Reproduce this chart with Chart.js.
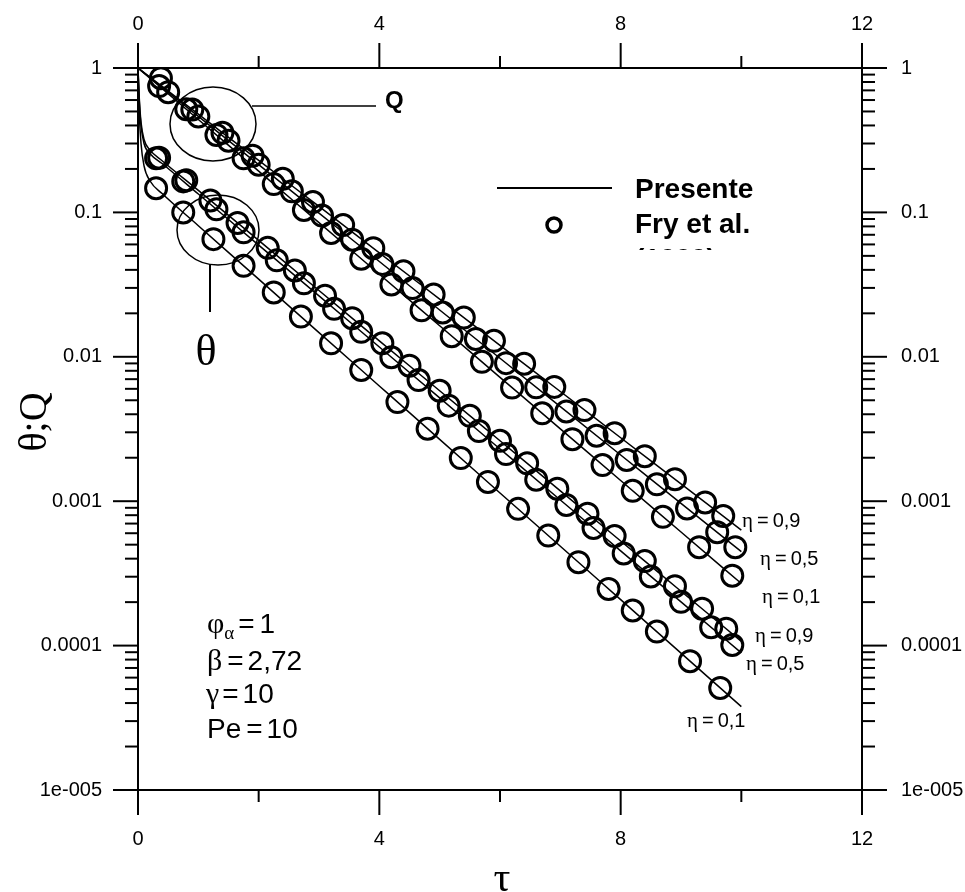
<!DOCTYPE html>
<html>
<head>
<meta charset="utf-8">
<script src="https://cdn.jsdelivr.net/npm/chart.js@4.4.1/dist/chart.umd.min.js"></script>
<style>
  html, body { margin: 0; padding: 0; background: #fff; }
</style>
</head>
<body>
<canvas id="decayChart" width="965" height="892"></canvas>
<script>
// model curves (solid lines)
const qTau = [0, 1, 2, 3, 4, 5, 6, 7, 8, 9, 10];
const qEta09 = [1, 0.479, 0.229, 0.110, 0.0525, 0.0251, 0.0120, 0.00575, 0.00275, 0.00132, 0.00063];
const qEta05 = [1, 0.462, 0.214, 0.0989, 0.0457, 0.0211, 0.00977, 0.00452, 0.00209, 0.000966, 0.000447];
const qEta01 = [1, 0.440, 0.193, 0.0849, 0.0373, 0.0164, 0.00721, 0.00317, 0.00139, 0.000612, 0.000269];

const thetaTau = [0, 0.02, 0.05, 0.1, 0.2, 0.4, 1, 2, 3, 4, 5, 6, 7, 8, 9, 10];
const thetaEta09 = [1, 0.63, 0.42, 0.32, 0.27, 0.228, 0.142, 0.0640, 0.0288, 0.0129, 0.00582, 0.00262, 0.00118, 0.00053, 0.000238, 0.000107];
const thetaEta05 = [1, 0.60, 0.40, 0.30, 0.255, 0.218, 0.134, 0.0594, 0.0264, 0.0117, 0.00519, 0.0023, 0.00102, 0.000453, 0.000201, 0.0000891];
const thetaEta01 = [1, 0.50, 0.30, 0.21, 0.165, 0.135, 0.0809, 0.0345, 0.0147, 0.00628, 0.00268, 0.00114, 0.000488, 0.000208, 0.0000887, 0.0000378];

// Fry et al. (1999) points (circles)
const fryQ09Tau = [0.38, 0.9, 1.4, 1.9, 2.4, 2.9, 3.4, 3.9, 4.4, 4.9, 5.4, 5.9, 6.4, 6.9, 7.4, 7.9, 8.4, 8.9, 9.4, 9.7];
const fryQ09 = [0.85, 0.515, 0.356, 0.247, 0.171, 0.118, 0.0817, 0.0565, 0.0391, 0.0270, 0.0187, 0.0129, 0.00895, 0.00619, 0.00428, 0.00296, 0.00205, 0.00142, 0.00098, 0.00079];
const fryQ05Tau = [0.5, 1.0, 1.5, 2.0, 2.55, 3.05, 3.55, 4.05, 4.55, 5.05, 5.6, 6.1, 6.6, 7.1, 7.6, 8.1, 8.6, 9.1, 9.6, 9.9];
const fryQ05 = [0.68, 0.462, 0.314, 0.214, 0.140, 0.0951, 0.0647, 0.0440, 0.0299, 0.0203, 0.0133, 0.00904, 0.00615, 0.00418, 0.00284, 0.00193, 0.00131, 0.00089, 0.00061, 0.00048];
const fryQ01Tau = [0.35, 0.8, 1.3, 1.75, 2.25, 2.75, 3.2, 3.7, 4.2, 4.7, 5.2, 5.7, 6.2, 6.7, 7.2, 7.7, 8.2, 8.7, 9.3, 9.85];
const fryQ01 = [0.75, 0.518, 0.344, 0.237, 0.157, 0.104, 0.0721, 0.0478, 0.0317, 0.0210, 0.0139, 0.00923, 0.00612, 0.00406, 0.00269, 0.00178, 0.00118, 0.00078, 0.00048, 0.000305];

const fryT09Tau = [0.35, 0.8, 1.2, 1.65, 2.15, 2.6, 3.1, 3.55, 4.05, 4.5, 5.0, 5.5, 6.0, 6.45, 6.95, 7.45, 7.9, 8.4, 8.9, 9.35, 9.75];
const fryT09 = [0.239, 0.167, 0.121, 0.0845, 0.0568, 0.0396, 0.0265, 0.0185, 0.0124, 0.00868, 0.00582, 0.00390, 0.00262, 0.00183, 0.00122, 0.00082, 0.000574, 0.000385, 0.000258, 0.000180, 0.000131];
const fryT05Tau = [0.3, 0.75, 1.3, 1.75, 2.3, 2.75, 3.25, 3.7, 4.2, 4.65, 5.15, 5.65, 6.1, 6.6, 7.1, 7.55, 8.05, 8.5, 9.0, 9.5, 9.85];
const fryT05 = [0.237, 0.164, 0.105, 0.0728, 0.0466, 0.0323, 0.0215, 0.0149, 0.00993, 0.00690, 0.00459, 0.00306, 0.00212, 0.00141, 0.000942, 0.000653, 0.000435, 0.000301, 0.000201, 0.000134, 0.000101];
const fryT01Tau = [0.3, 0.75, 1.25, 1.75, 2.25, 2.7, 3.2, 3.7, 4.3, 4.8, 5.35, 5.8, 6.3, 6.8, 7.3, 7.8, 8.2, 8.6, 9.15, 9.65];
const fryT01 = [0.147, 0.100, 0.0653, 0.0427, 0.0279, 0.0190, 0.0124, 0.00811, 0.00486, 0.00318, 0.00199, 0.00136, 0.000885, 0.000578, 0.000378, 0.000247, 0.000175, 0.000125, 0.000078, 0.0000509];

// axes
const xMajor = [0, 4, 8, 12];
const xMinor = [2, 6, 10];
const yMajor = [1, 0.1, 0.01, 0.001, 0.0001, 0.00001];
const yLabels = ['1', '0.1', '0.01', '0.001', '0.0001', '1e-005'];
const yMinorMant = [2, 3, 4, 5, 6, 7, 8, 9];

const SANS = '"Liberation Sans", Arial, sans-serif';
const SERIF = '"Liberation Serif", "Times New Roman", serif';

const pts = (xs, ys) => xs.map((t, i) => ({ x: t, y: ys[i] }));

const curve = (xs, ys) => ({
  data: pts(xs, ys), showLine: true, borderColor: '#000', borderWidth: 1.5,
  pointRadius: 0, fill: false, cubicInterpolationMode: 'monotone'
});
const marks = (xs, ys) => ({
  data: pts(xs, ys), showLine: false, pointRadius: 10.5, pointBorderWidth: 3,
  pointBorderColor: '#000', pointBackgroundColor: 'rgba(0,0,0,0)'
});

function line(ctx, x1, y1, x2, y2) {
  ctx.beginPath(); ctx.moveTo(x1, y1); ctx.lineTo(x2, y2); ctx.stroke();
}

// draws mixed-font text pieces one after another; numbers are gaps in px
function runs(ctx, x, y, parts) {
  parts.forEach(p => {
    if (typeof p === 'number') { x += p; return; }
    ctx.font = p[1];
    ctx.fillText(p[0], x, y + (p[2] || 0));
    x += ctx.measureText(p[0]).width;
  });
}

const frame = {
  id: 'frame',
  afterDraw(chart) {
    const { ctx, chartArea: a, scales: { x, y } } = chart;
    ctx.save();
    ctx.strokeStyle = '#000';
    ctx.fillStyle = '#000';
    ctx.lineWidth = 2;
    ctx.strokeRect(a.left, a.top, a.right - a.left, a.bottom - a.top);

    // x ticks, top and bottom, pointing out
    ctx.font = '20px ' + SANS;
    ctx.textAlign = 'center';
    ctx.textBaseline = 'middle';
    xMajor.forEach(v => {
      const px = x.getPixelForValue(v);
      line(ctx, px, a.top, px, a.top - 25);
      line(ctx, px, a.bottom, px, a.bottom + 25);
      ctx.fillText(String(v), px, 24);
      ctx.fillText(String(v), px, 839);
    });
    xMinor.forEach(v => {
      const px = x.getPixelForValue(v);
      line(ctx, px, a.top, px, a.top - 12);
      line(ctx, px, a.bottom, px, a.bottom + 12);
    });

    // y ticks, left and right
    yMajor.forEach((v, i) => {
      const py = y.getPixelForValue(v);
      line(ctx, a.left - 25, py, a.left, py);
      line(ctx, a.right, py, a.right + 25, py);
      ctx.textAlign = 'right';
      ctx.fillText(yLabels[i], a.left - 36, py);
      ctx.textAlign = 'left';
      ctx.fillText(yLabels[i], a.right + 39, py);
      if (i > 0) {
        yMinorMant.forEach(m => {
          const pm = y.getPixelForValue(m * v);
          line(ctx, a.left - 13, pm, a.left, pm);
          line(ctx, a.right, pm, a.right + 13, pm);
        });
      }
    });

    // axis titles
    ctx.textAlign = 'center';
    ctx.textBaseline = 'alphabetic';
    ctx.font = '40px ' + SERIF;
    ctx.save();
    ctx.translate(46, 422);
    ctx.rotate(-Math.PI / 2);
    ctx.fillText('θ;Q', 0, 0);
    ctx.restore();
    ctx.font = '42px ' + SERIF;
    ctx.fillText('τ', 502, 891);

    // Q and θ callouts
    ctx.lineWidth = 1.5;
    ctx.beginPath(); ctx.ellipse(213, 124, 43, 37, 0, 0, Math.PI * 2); ctx.stroke();
    line(ctx, 252, 106, 376, 106);
    ctx.textAlign = 'left';
    ctx.font = 'bold 24px ' + SANS;
    ctx.fillText('Q', 385, 108);
    ctx.beginPath(); ctx.ellipse(218, 230, 41, 35, 0, 0, Math.PI * 2); ctx.stroke();
    ctx.lineWidth = 2;
    line(ctx, 210, 264, 210, 312);
    ctx.font = '44px ' + SERIF;
    ctx.textAlign = 'center';
    ctx.fillText('θ', 206, 365);

    // legend
    ctx.textAlign = 'left';
    line(ctx, 497, 188, 612, 188);
    ctx.lineWidth = 3.5;
    ctx.beginPath(); ctx.arc(554, 225, 7, 0, Math.PI * 2); ctx.stroke();
    ctx.font = 'bold 28px ' + SANS;
    ctx.fillText('Presente', 635, 198);
    ctx.fillText('Fry et al.', 635, 233);
    ctx.save();
    ctx.beginPath(); ctx.rect(620, 238, 200, 12); ctx.clip();
    ctx.fillText('(1999)', 635, 268);
    ctx.restore();

    // parameter block
    const big = '28px ' + SANS, greek = '30px ' + SERIF;
    runs(ctx, 207, 633, [['φ', greek], ['α', '19px ' + SERIF, 6], 4, ['=', big], 5, ['1', big]]);
    runs(ctx, 207, 670, [['β', greek], 5, ['=', big], 4, ['2,72', big]]);
    runs(ctx, 206, 703, [['γ', greek], 3, ['=', big], 4, ['10', big]]);
    runs(ctx, 207, 738, [['Pe', big], 5, ['=', big], 4, ['10', big]]);

    // eta labels at the curve ends
    const eta = [
      ['0,9', 742, 527], ['0,5', 760, 565], ['0,1', 762, 603],
      ['0,9', 755, 642], ['0,5', 746, 670], ['0,1', 687, 727]
    ];
    eta.forEach(([txt, ex, ey]) => {
      runs(ctx, ex, ey, [['η', '21px ' + SERIF], ['\u2009=\u2009', '20px ' + SANS], [txt, '20px ' + SANS]]);
    });
    ctx.restore();
  }
};

const ctx = document.getElementById('decayChart').getContext('2d');
new Chart(ctx, {
  type: 'scatter',
  data: {
    datasets: [
      curve(qTau, qEta09), curve(qTau, qEta05), curve(qTau, qEta01),
      curve(thetaTau, thetaEta09), curve(thetaTau, thetaEta05), curve(thetaTau, thetaEta01),
      marks(fryQ09Tau, fryQ09), marks(fryQ05Tau, fryQ05), marks(fryQ01Tau, fryQ01),
      marks(fryT09Tau, fryT09), marks(fryT05Tau, fryT05), marks(fryT01Tau, fryT01)
    ]
  },
  options: {
    responsive: false,
    animation: false,
    devicePixelRatio: 1,
    layout: { padding: { left: 138, right: 103, top: 68, bottom: 102 } },
    plugins: { legend: { display: false }, tooltip: { enabled: false } },
    scales: {
      x: { type: 'linear', min: 0, max: 12, display: false },
      y: { type: 'logarithmic', min: 0.00001, max: 1, display: false }
    }
  },
  plugins: [frame]
});
</script>
</body>
</html>
